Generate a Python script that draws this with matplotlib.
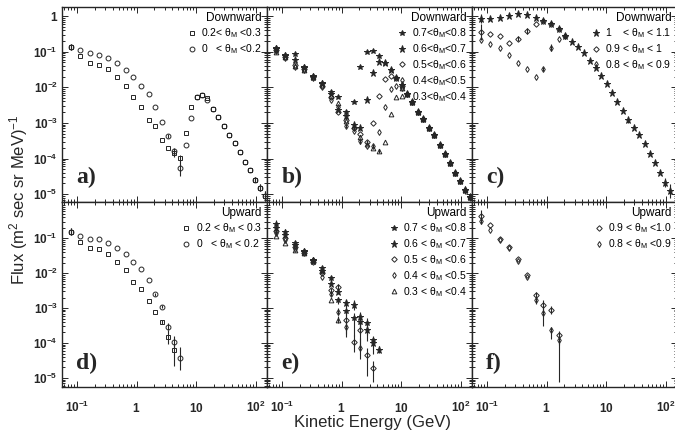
import numpy as np
import matplotlib
matplotlib.use("Agg")
import matplotlib.pyplot as plt
from matplotlib.lines import Line2D
from matplotlib.ticker import LogLocator, NullFormatter

plt.rcParams['font.family'] = ['Liberation Sans', 'DejaVu Sans']
plt.rcParams['mathtext.fontset'] = 'custom'
plt.rcParams['mathtext.rm'] = 'Liberation Sans'
plt.rcParams['mathtext.it'] = 'Liberation Sans:italic'
plt.rcParams['mathtext.bf'] = 'Liberation Sans:bold'

nan = np.nan
ink = '#262626'

# kinetic energy bins (GeV), same for every panel
energy = [0.078, 0.112, 0.166, 0.237, 0.336, 0.465, 0.66, 0.88, 1.19, 1.6,
          2.04, 2.64, 3.4, 4.24, 5.3, 6.7, 8.3, 10.2, 12.6, 15.5,
          19, 23.7, 29.4, 36, 45, 55, 66, 81, 98, 120, 145]

# log10 of the flux
# a) downward, 0 < thM < 0.2 and 0.2 < thM < 0.3
a_th00 = [-0.86, -0.95, -1.03, -1.09, -1.19, -1.33, -1.51, -1.72, -1.95, -2.19,
          -2.56, -2.97, -3.36, -3.80, -4.26, -3.63, -2.86, -2.26, -2.21, -2.35,
          -2.60, -2.83, -3.10, -3.33, -3.56, -3.81, -4.09, -4.33, -4.59, -4.82, -5.05]
a_th02 = [-0.86, -1.12, -1.31, -1.37, -1.48, -1.70, -1.95, -2.26, -2.56, -2.93,
          -3.10, -3.47, -3.70, -3.84, -3.98, -3.28, -2.56, -2.26, -2.21, -2.30,
          -2.60, -2.83, -3.10, -3.33, -3.56, -3.81, -4.09, -4.33, -4.59, -4.82, -5.05]
a_err00 = {0: 0.08, 12: 0.06, 13: 0.1, 14: 0.22, 28: 0.06, 29: 0.1, 30: 0.15}
a_err02 = {0: 0.08, 13: 0.12, 14: 0.08, 28: 0.06, 29: 0.1, 30: 0.15}

# b) downward, 0.3 .. 0.8
b_tail = [-2.18, -2.42, -2.68, -2.88, -3.14, -3.35, -3.61, -3.86, -4.14, -4.40,
          -4.63, -4.88, -5.09]
b_th07 = [-0.90, -1.09, -1.07, -1.42, -1.68, -1.88, -2.12, -2.26, -2.68, -2.40,
          -1.44, -1.00, -0.97, -1.11, -1.32, -1.51, -1.74, -1.93] + b_tail
b_th06 = [-0.93, -1.12, -1.23, -1.45, -1.70, -1.92, -2.20, -2.63, -2.82, -3.05,
          -3.14, -2.35, -1.60, -1.28, -1.32, -1.51, -1.74, -1.93] + b_tail
b_th05 = [-0.95, -1.15, -1.37, -1.48, -1.72, -1.95, -2.28, -2.68, -2.91, -3.15,
          -3.30, -3.55, -3.00, -2.24, -1.77, -1.68, -1.74, -1.96] + b_tail
b_th04 = [-0.97, -1.18, -1.42, -1.51, -1.73, -1.98, -2.35, -2.55, -3.09, -3.23,
          -3.51, -3.65, -3.65, -3.26, -2.54, -2.04, -1.95, -2.02] + b_tail
b_th03 = [-1.00, -1.16, -1.40, -1.50, -1.70, -1.93, -2.25, -2.44, -2.95, -3.10,
          -3.40, -3.60, -3.70, -3.79, -3.53, -2.74, -2.26, -2.02] + b_tail
b_err07 = {0: 0.1, 7: 0.05, 9: 0.05, 17: 0.06, 29: 0.12, 30: 0.1}
b_err06 = {0: 0.1, 8: 0.06, 10: 0.06}
b_err05 = {0: 0.08, 9: 0.07, 11: 0.06}
b_err04 = {8: 0.06, 10: 0.07, 12: 0.05}
b_err03 = {13: 0.06}

# c) downward, 0.8 .. 1.1
c_th10 = [-0.07, -0.09, -0.05, 0.01, 0.05, 0.03, -0.04, -0.14, -0.23, -0.37,
          -0.55, -0.72, -0.88, -1.05, -1.26, -1.46, -1.68, -1.91, -2.16, -2.41,
          -2.66, -2.93, -3.14, -3.35, -3.59, -3.86, -4.14, -4.40, -4.68, -4.91]
c_th09 = [-0.44, -0.49, -0.56, -0.75, -0.63, -0.42, -0.23, -0.14, -0.23, -0.37, -0.55]
c_th08 = [-0.67, -0.79, -0.90, -1.09, -1.31, -1.48, -1.70, -1.48, -0.89, -0.65, -0.55]
c_err10 = {0: 0.12, 21: 0.06, 28: 0.12, 29: 0.2}
c_err09 = {0: 0.22, 4: 0.08, 5: 0.08, 10: 0.06}
c_err08 = {7: 0.06, 8: 0.1}

# d) upward, 0 .. 0.3
d_th00 = [-0.81, -0.93, -1.03, -1.03, -1.14, -1.29, -1.46, -1.67, -1.88, -2.19,
          -2.60, -2.96, -3.53, -3.96, -4.44]
d_th02 = [-0.81, -1.10, -1.29, -1.32, -1.45, -1.67, -1.91, -2.24, -2.45, -2.79,
          -3.10, -3.39, -3.82, -4.20]
d_err00 = {0: 0.1, 10: 0.04, 11: 0.05, 12: 0.1, 13: 0.17, 14: 0.33}
d_err02 = {0: 0.1, 11: 0.06, 12: 0.2, 13: (0.45, 0.15)}

# e) upward, 0.3 .. 0.8
e_th07 = [-0.60, -0.81, -1.14, -1.36, -1.62, -1.86, -2.15, -2.77, -3.08, -3.29,
          -3.39, -3.44, -3.91]
e_th06 = [-0.70, -0.90, -1.20, -1.40, -1.65, -1.95, -2.32, -2.53, -2.86, -2.91,
          -3.25, -3.63, -4.01, -4.20]
e_th05 = [-0.78, -0.98, -1.24, -1.43, -1.67, -2.00, -2.48, -2.39, -3.34, -3.96,
          -3.63, -4.34, -4.72]
e_th04 = [-0.85, -1.05, -1.30, -1.38, -1.63, -2.10, -2.60, -3.10, -3.53, nan, -4.15]
e_th03 = [-0.92, -1.14, -1.34, -1.42, -1.66, -1.92, -2.77, -3.34]
e_err07 = {0: 0.12, 1: 0.08, 6: 0.06, 7: 0.1, 8: 0.15, 9: (0.5, 0.15), 10: 0.2,
           11: (0.5, 0.15), 12: (0.4, 0.1)}
e_err06 = {0: 0.15, 1: 0.06, 5: 0.05, 7: 0.08, 8: 0.1, 9: 0.15, 10: (0.5, 0.15),
           11: 0.15, 12: 0.1, 13: 0.1}
e_err05 = {0: 0.1, 6: 0.06, 7: 0.08, 8: (0.5, 0.2), 9: (0.3, 0.2), 10: (0.5, 0.2),
           11: (0.6, 0.2), 12: (0.4, 0.2)}
e_err04 = {6: 0.06, 7: 0.1, 8: 0.2, 10: 0.3}
e_err03 = {7: 0.1}

# f) upward, 0.8 .. 1.0
f_th09 = [-0.35, -0.62, -1.02, -1.26, -1.60, -2.06, -2.62, -2.91, -3.05, -3.77]
f_th08 = [-0.50, -0.76, -1.04, -1.28, -1.64, -2.10, -2.77, -3.15, -3.63, -3.91]
f_err09 = {0: 0.15, 6: 0.08, 7: 0.15, 8: 0.12, 9: (0.3, 0.1)}
f_err08 = {0: 0.1, 6: 0.1, 7: (0.35, 0.15), 8: (0.25, 0.1), 9: (1.2, 0.15)}

# marker styles: (marker, size, face)
sty = {
    'sq': ('s', 3.3, 'none'),
    'ci': ('o', 3.5, 'none'),
    's7': ('*', 4.2, ink),
    's6': ('*', 5.2, ink),
    'dc': ('D', 2.8, 'none'),
    'ds': ('d', 3.0, 'none'),
    'tr': ('^', 3.4, 'none'),
}


def draw(ax, logflux, key, err):
    m, ms, fc = sty[key]
    y = 10.0 ** np.array(logflux, dtype=float)
    x = np.array(energy[:len(y)])
    dn = np.zeros(len(y))
    up = np.zeros(len(y))
    for i, e in err.items():
        if isinstance(e, tuple):
            dn[i], up[i] = e
        else:
            dn[i] = up[i] = e
    yerr = [y * (1 - 10.0 ** -dn), y * (10.0 ** up - 1)]
    ax.errorbar(x, y, yerr=yerr, fmt=m, ms=ms, mfc=fc, mec=ink, mew=0.7,
                ecolor=ink, elinewidth=0.8, capsize=0, zorder=3)


def legend(ax, title, keys, labels):
    hs = [Line2D([], [], ls='none', marker=sty[k][0], ms=sty[k][1],
                 mfc=sty[k][2], mec=ink, mew=0.7) for k in keys]
    ax.legend(hs, labels, loc='upper right', bbox_to_anchor=(1.0, 1.0),
              frameon=False, fontsize=7.5, title=title, title_fontsize=8.5,
              alignment='right', handlelength=0.8, handletextpad=0.5,
              labelspacing=0.2, borderaxespad=0.2, borderpad=0.3)


fig = plt.figure(figsize=(6.75, 4.41), dpi=100)
W, H = 675.0, 441.0
lefts = [62, 267, 472]
width = 205
rows = [(7, 202, (10 ** -5.222, 10 ** 0.256)), (202, 386.7, (10 ** -5.252, 10 ** 0.04))]

axes = []
for r, (top, bot, ylim) in enumerate(rows):
    for c, lx in enumerate(lefts):
        ax = fig.add_axes([lx / W, 1 - bot / H, width / W, (bot - top) / H])
        ax.set_xscale('log')
        ax.set_yscale('log')
        ax.set_xlim(10 ** -1.252, 10 ** 2.193)
        ax.set_ylim(*ylim)
        ax.set_xticks([0.1, 1, 10, 100],
                      [r'$\mathbf{10^{-1}}$', r'$\mathbf{1}$', r'$\mathbf{10}$', r'$\mathbf{10^{2}}$'])
        if r == 0:
            yt = [1, 1e-1, 1e-2, 1e-3, 1e-4, 1e-5]
            yl = [r'$\mathbf{1}$'] + [r'$\mathbf{10^{-%d}}$' % k for k in range(1, 6)]
        else:
            yt = [1e-1, 1e-2, 1e-3, 1e-4, 1e-5]
            yl = [r'$\mathbf{10^{-%d}}$' % k for k in range(1, 6)]
        ax.set_yticks(yt, yl)
        ax.xaxis.set_minor_locator(LogLocator(base=10, subs=np.arange(2, 10), numticks=30))
        ax.yaxis.set_minor_locator(LogLocator(base=10, subs=np.arange(2, 10), numticks=30))
        ax.xaxis.set_minor_formatter(NullFormatter())
        ax.yaxis.set_minor_formatter(NullFormatter())
        ax.tick_params(which='both', direction='in', top=True, right=True,
                       labelsize=8.5, width=0.7, colors=ink)
        ax.tick_params(which='major', length=4)
        ax.tick_params(which='minor', length=2)
        ax.tick_params(axis='x', pad=18.5)
        ax.tick_params(axis='y', pad=3)
        for lbl in ax.get_xticklabels():
            lbl.set_verticalalignment('baseline')
        ax.tick_params(labelleft=(c == 0), labelbottom=(r == 1))
        for sp in ax.spines.values():
            sp.set_linewidth(1.0)
            sp.set_color(ink)
        axes.append(ax)

axa, axb, axc, axd, axe, axf = axes

draw(axa, a_th02, 'sq', a_err02)
draw(axa, a_th00, 'ci', a_err00)
legend(axa, 'Downward', ['sq', 'ci'],
       ['0.2< θ$_{\\rm M}$ <0.3', '0   < θ$_{\\rm M}$ <0.2'])

draw(axb, b_th03, 'tr', b_err03)
draw(axb, b_th04, 'ds', b_err04)
draw(axb, b_th05, 'dc', b_err05)
draw(axb, b_th06, 's6', b_err06)
draw(axb, b_th07, 's7', b_err07)
legend(axb, 'Downward', ['s7', 's6', 'dc', 'ds', 'tr'],
       ['0.7<θ$_{\\rm M}$<0.8', '0.6<θ$_{\\rm M}$<0.7', '0.5<θ$_{\\rm M}$<0.6',
        '0.4<θ$_{\\rm M}$<0.5', '0.3<θ$_{\\rm M}$<0.4'])

draw(axc, c_th08, 'ds', c_err08)
draw(axc, c_th09, 'dc', c_err09)
draw(axc, c_th10, 's6', c_err10)
legend(axc, 'Downward', ['s6', 'dc', 'ds'],
       ['1    < θ$_{\\rm M}$ < 1.1', '0.9 < θ$_{\\rm M}$ < 1    ', '0.8 < θ$_{\\rm M}$ < 0.9'])

draw(axd, d_th02, 'sq', d_err02)
draw(axd, d_th00, 'ci', d_err00)
legend(axd, 'Upward', ['sq', 'ci'],
       ['0.2 < θ$_{\\rm M}$ < 0.3', '0   < θ$_{\\rm M}$ < 0.2'])

draw(axe, e_th03, 'tr', e_err03)
draw(axe, e_th04, 'ds', e_err04)
draw(axe, e_th05, 'dc', e_err05)
draw(axe, e_th06, 's6', e_err06)
draw(axe, e_th07, 's7', e_err07)
legend(axe, 'Upward', ['s7', 's6', 'dc', 'ds', 'tr'],
       ['0.7 < θ$_{\\rm M}$ <0.8', '0.6 < θ$_{\\rm M}$ <0.7', '0.5 < θ$_{\\rm M}$ <0.6',
        '0.4 < θ$_{\\rm M}$ <0.5', '0.3 < θ$_{\\rm M}$ <0.4'])

draw(axf, f_th08, 'ds', f_err08)
draw(axf, f_th09, 'dc', f_err09)
legend(axf, 'Upward', ['dc', 'ds'],
       ['0.9 < θ$_{\\rm M}$ <1.0', '0.8 < θ$_{\\rm M}$ <0.9'])

for ax, tag in zip(axes, 'abcdef'):
    ax.text(0.07, 0.07, tag + ')', transform=ax.transAxes, ha='left', va='bottom',
            family='Liberation Serif', weight='bold', fontsize=17, color=ink)

fig.text(19 / W, 1 - 200 / H, r'Flux (m$^2$ sec sr MeV)$^{-1}$', rotation=90,
         ha='center', va='center', fontsize=12, color=ink)
fig.text(372 / W, 1 - 422 / H, 'Kinetic Energy (GeV)', ha='center', va='center',
         fontsize=12, color=ink)

fig.savefig('out.png', dpi=100)
